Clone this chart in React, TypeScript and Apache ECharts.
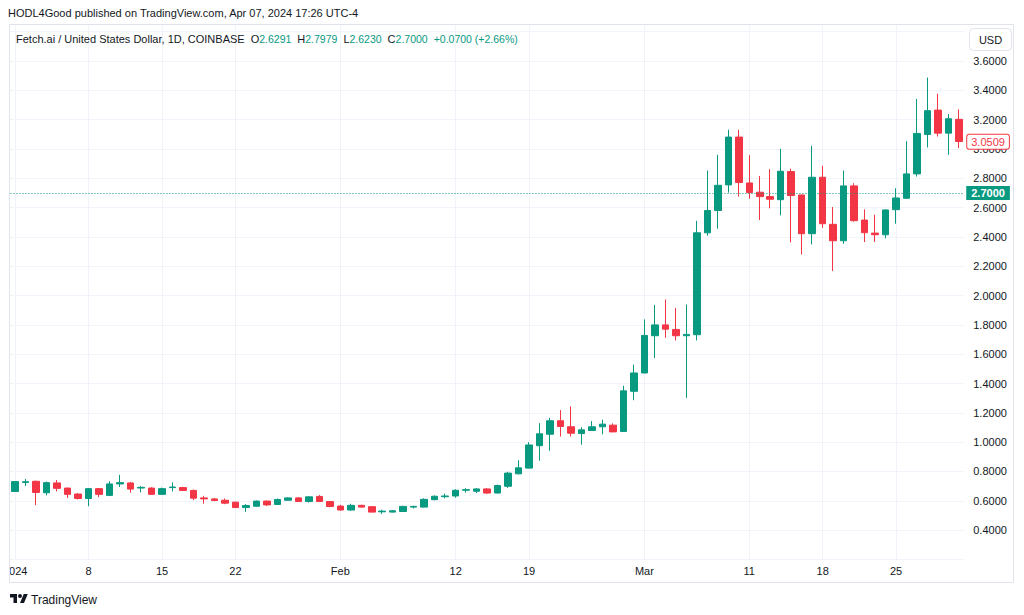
import React, { useEffect, useRef } from "react";
import * as echarts from "echarts";

const FONT = '"Liberation Sans", Arial, sans-serif';
const GREEN = "#089981";
const RED = "#f23645";
const TEXT = "#131722";
const GRID = "#f0f3fa";
const BORDER = "#e0e3eb";

// Daily candles, 2024-01-01 .. 2024-03-31
const startDay = Date.UTC(2024, 0, 1);
const dates: string[] = Array.from({ length: 91 }, (_, i) =>
  new Date(startDay + i * 86400000).toISOString().slice(0, 10)
);

const opens = [
  0.664, 0.725, 0.733, 0.655, 0.722, 0.687, 0.646, 0.616, 0.683, 0.637,
  0.715, 0.722, 0.687, 0.687, 0.644, 0.69, 0.69, 0.671, 0.62, 0.613,
  0.604, 0.591, 0.554, 0.563, 0.598, 0.575, 0.604, 0.62, 0.595, 0.63,
  0.595, 0.564, 0.537, 0.569, 0.56, 0.525, 0.523, 0.527, 0.557, 0.557,
  0.608, 0.628, 0.633, 0.672, 0.665, 0.681, 0.653, 0.699, 0.784, 0.823,
  0.976, 1.054, 1.146, 1.105, 1.059, 1.08, 1.105, 1.116, 1.073, 1.347,
  1.472, 1.726, 1.8, 1.769, 1.726, 1.733, 2.428, 2.58, 2.755, 3.081,
  2.768, 2.705, 2.675, 2.654, 2.846, 2.686, 2.422, 2.807, 2.486, 2.374,
  2.748, 2.515, 2.426, 2.415, 2.586, 2.664, 2.83, 3.099, 3.265, 3.108,
  3.202,
];
const closes = [
  0.731, 0.73, 0.657, 0.724, 0.685, 0.644, 0.616, 0.683, 0.644, 0.715,
  0.724, 0.68, 0.692, 0.644, 0.683, 0.694, 0.671, 0.618, 0.613, 0.602,
  0.584, 0.554, 0.568, 0.598, 0.572, 0.609, 0.62, 0.595, 0.627, 0.595,
  0.561, 0.537, 0.569, 0.557, 0.523, 0.53, 0.532, 0.562, 0.562, 0.61,
  0.631, 0.633, 0.672, 0.676, 0.681, 0.653, 0.704, 0.789, 0.825, 0.981,
  1.057, 1.146, 1.107, 1.061, 1.084, 1.105, 1.123, 1.07, 1.35, 1.472,
  1.728, 1.8, 1.771, 1.726, 1.735, 2.428, 2.58, 2.752, 3.081, 2.771,
  2.702, 2.675, 2.657, 2.848, 2.682, 2.422, 2.807, 2.49, 2.374, 2.748,
  2.511, 2.429, 2.415, 2.584, 2.666, 2.83, 3.106, 3.261, 3.108, 3.206,
  3.0509,
];
const lows = [
  0.66, 0.7, 0.57, 0.637, 0.664, 0.62, 0.609, 0.563, 0.625, 0.632,
  0.694, 0.655, 0.657, 0.641, 0.641, 0.664, 0.669, 0.604, 0.58, 0.598,
  0.577, 0.552, 0.524, 0.559, 0.565, 0.572, 0.602, 0.593, 0.588, 0.593,
  0.556, 0.534, 0.534, 0.555, 0.521, 0.511, 0.521, 0.525, 0.548, 0.555,
  0.603, 0.617, 0.622, 0.656, 0.653, 0.647, 0.651, 0.688, 0.782, 0.821,
  0.873, 0.942, 1.038, 1.038, 0.983, 1.078, 1.054, 1.068, 1.07, 1.286,
  1.47, 1.574, 1.712, 1.694, 1.302, 1.694, 2.408, 2.456, 2.702, 2.675,
  2.661, 2.515, 2.595, 2.547, 2.363, 2.28, 2.349, 2.461, 2.167, 2.353,
  2.504, 2.365, 2.365, 2.39, 2.49, 2.66, 2.812, 3.01, 3.085, 2.96,
  3.005,
];
const highs = [
  0.735, 0.749, 0.738, 0.731, 0.742, 0.689, 0.653, 0.686, 0.687, 0.733,
  0.777, 0.729, 0.7, 0.692, 0.69, 0.726, 0.696, 0.676, 0.634, 0.62,
  0.616, 0.593, 0.577, 0.602, 0.602, 0.616, 0.623, 0.625, 0.63, 0.639,
  0.598, 0.573, 0.58, 0.573, 0.562, 0.539, 0.537, 0.566, 0.566, 0.617,
  0.637, 0.649, 0.679, 0.686, 0.688, 0.688, 0.711, 0.798, 0.876, 1.0,
  1.13, 1.166, 1.219, 1.244, 1.102, 1.144, 1.153, 1.128, 1.385, 1.529,
  1.837, 1.936, 1.973, 1.916, 1.939, 2.51, 2.853, 2.96, 3.131, 3.131,
  2.958, 2.816, 2.862, 3.001, 2.866, 2.69, 3.022, 2.885, 2.604, 2.853,
  2.766, 2.588, 2.552, 2.588, 2.732, 3.053, 3.341, 3.487, 3.377, 3.238,
  3.27,
];

const tickDates = [
  "2024-01-01", "2024-01-08", "2024-01-15", "2024-01-22", "2024-02-01",
  "2024-02-12", "2024-02-19", "2024-03-01", "2024-03-11", "2024-03-18", "2024-03-25",
];
const tickTexts = ["2024", "8", "15", "22", "Feb", "12", "19", "Mar", "11", "18", "25"];

const headerText = "HODL4Good published on TradingView.com, Apr 07, 2024 17:26 UTC-4";
const symbolText = "Fetch.ai / United States Dollar, 1D, COINBASE";
const ohlcKeys = ["O", "H", "L", "C"];
const ohlcVals = ["2.6291", "2.7979", "2.6230", "2.7000"];
const changeText = "+0.0700 (+2.66%)";
const currentPrice = 2.7;
const lastClose = 3.0509;
const maxShownLabel = 3.6;

const GRID_LEFT = 7.44;
const GRID_WIDTH = 956.8;

const TV_LOGO =
  "M14 22H7V11H0V4h14v18zM28 22h-8l7.5-18h8L28 22zM16 8a4 4 0 1 0 8 0a4 4 0 1 0 -8 0z";

echarts.graphic.registerShape("tvlogo", echarts.graphic.extendPath(TV_LOGO, {}));

const isTick = (i: number) => tickDates.indexOf(dates[i]) >= 0;

export default function App() {
  const ref = useRef<HTMLDivElement>(null);

  useEffect(() => {
    if (!ref.current) return;
    const chart = echarts.init(ref.current, null, { renderer: "svg" });
    const candleData = dates.map((_, i) => [opens[i], closes[i], lows[i], highs[i]]);

    let legendStr = `{n|${symbolText}}`;
    ohlcKeys.forEach((k, i) => {
      legendStr += `{k|${k}}{g|${ohlcVals[i]}}`;
    });
    legendStr += `{c|${changeText}}`;

    chart.setOption({
      animation: false,
      backgroundColor: "#ffffff",
      textStyle: { fontFamily: FONT },
      grid: { left: GRID_LEFT, top: 24.35, width: GRID_WIDTH, height: 535.1 },
      xAxis: {
        type: "category",
        data: dates,
        boundaryGap: true,
        axisLine: { show: false },
        axisTick: { show: false },
        axisLabel: {
          interval: (i: number) => isTick(i),
          formatter: (v: string) => {
            const k = tickDates.indexOf(v);
            return k >= 0 ? tickTexts[k] : "";
          },
          color: TEXT,
          fontSize: 11,
          fontFamily: FONT,
          margin: 6,
        },
        splitLine: {
          show: true,
          alignWithLabel: true,
          interval: (i: number) => isTick(i),
          lineStyle: { color: GRID, width: 1 },
        },
      },
      yAxis: {
        type: "value",
        position: "right",
        min: 0.2,
        max: 3.85,
        interval: 0.2,
        axisLine: { show: false },
        axisTick: { show: false },
        axisLabel: {
          color: TEXT,
          fontSize: 11,
          fontFamily: FONT,
          margin: 9,
          showMinLabel: false,
          showMaxLabel: false,
          formatter: (v: number) => (v > maxShownLabel + 0.01 ? "" : v.toFixed(4)),
        },
        splitLine: { show: true, lineStyle: { color: GRID, width: 1 } },
      },
      series: [
        {
          type: "candlestick",
          data: candleData,
          barWidth: 7,
          itemStyle: {
            color: GREEN,
            color0: RED,
            borderColor: GREEN,
            borderColor0: RED,
            borderWidth: 1,
          },
          markLine: {
            silent: true,
            symbol: ["none", "none"],
            animation: false,
            lineStyle: { color: "rgba(255,255,255,0)", width: 0 },
            data: [
              {
                yAxis: currentPrice,
                label: {
                  show: true,
                  position: "end",
                  distance: 2,
                  formatter: currentPrice.toFixed(4),
                  color: "#ffffff",
                  backgroundColor: GREEN,
                  padding: [2, 5, 1, 5],
                  fontSize: 11,
                  fontWeight: "bold",
                  fontFamily: FONT,
                },
              },
              {
                yAxis: lastClose,
                label: {
                  show: true,
                  position: "end",
                  distance: 3,
                  formatter: lastClose.toFixed(4),
                  color: RED,
                  backgroundColor: "#ffffff",
                  borderColor: RED,
                  borderWidth: 1,
                  borderRadius: 2,
                  padding: [2, 4, 1, 4],
                  fontSize: 11,
                  fontFamily: FONT,
                },
              },
            ],
          },
        },
      ],
    });

    const priceY = chart.convertToPixel({ yAxisIndex: 0 }, currentPrice) as number;

    chart.setOption({
      graphic: [
        {
          type: "line",
          z: 10,
          silent: true,
          shape: { x1: GRID_LEFT, y1: Math.round(priceY) + 0.5, x2: GRID_LEFT + GRID_WIDTH, y2: Math.round(priceY) + 0.5 },
          style: { stroke: GREEN, lineWidth: 1, lineDash: [1, 2] },
        },
        {
          type: "text",
          x: 8,
          y: 13,
          style: { text: headerText, fill: TEXT, fontSize: 11, fontFamily: FONT, verticalAlign: "middle" },
        },
        {
          type: "rect",
          shape: { x: 0, y: 24, width: 9, height: 560 },
          style: { fill: "#ffffff" },
          z: 50,
        },
        {
          type: "rect",
          shape: { x: 9.5, y: 24.5, width: 1004, height: 558 },
          style: { fill: "none", stroke: BORDER, lineWidth: 1 },
          z: 51,
        },
        {
          type: "text",
          x: 16,
          y: 39,
          z: 52,
          style: {
            text: legendStr,
            fontSize: 11,
            fontFamily: FONT,
            verticalAlign: "middle",
            fill: TEXT,
            rich: {
              n: { fill: TEXT, fontSize: 11, fontFamily: FONT },
              k: { fill: TEXT, fontSize: 11, fontFamily: FONT, padding: [0, 0, 0, 6] },
              g: { fill: GREEN, fontSize: 10.5, fontFamily: FONT },
              c: { fill: GREEN, fontSize: 10.5, fontFamily: FONT, padding: [0, 0, 0, 6] },
            },
          },
        },
        {
          type: "rect",
          z: 52,
          shape: { x: 969.5, y: 28.5, width: 42, height: 22, r: 4 },
          style: { fill: "#ffffff", stroke: BORDER, lineWidth: 1 },
        },
        {
          type: "text",
          z: 53,
          x: 990.5,
          y: 39.5,
          style: { text: "USD", fill: TEXT, fontSize: 11, fontFamily: FONT, align: "center", verticalAlign: "middle" },
        },
        {
          type: "tvlogo",
          x: 10,
          y: 592,
          scaleX: 0.5,
          scaleY: 0.5,
          style: { fill: TEXT },
        },
        {
          type: "text",
          x: 31,
          y: 599.5,
          style: { text: "TradingView", fill: TEXT, fontSize: 12, fontFamily: FONT, verticalAlign: "middle" },
        },
      ],
    });
    return () => chart.dispose();
  }, []);

  return (
    <div
      ref={ref}
      style={{ position: "absolute", left: 0, top: 0, width: 1024, height: 615 }}
    />
  );
}
